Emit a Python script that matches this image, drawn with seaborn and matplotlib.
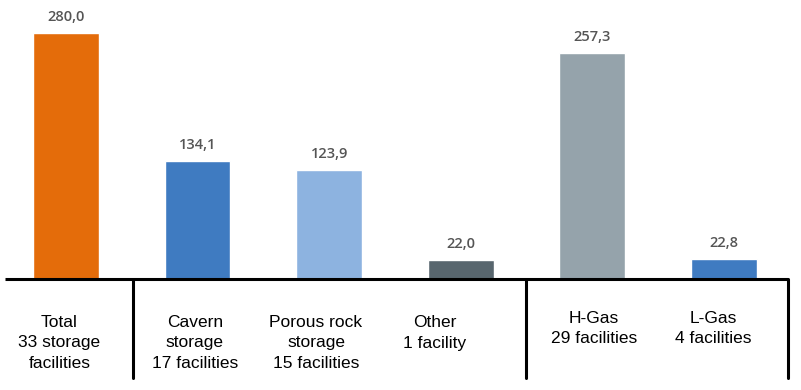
import matplotlib
matplotlib.use("Agg")
import matplotlib.pyplot as plt
import pandas as pd
import seaborn as sns

categories = ["Total", "Cavern", "Porous rock", "Other", "H-Gas", "L-Gas"]
values = [280.0, 134.1, 123.9, 22.0, 257.3, 22.8]
value_labels = ["280,0", "134,1", "123,9", "22,0", "257,3", "22,8"]
tick_labels = [
    "Total\n33 storage\nfacilities",
    "Cavern\nstorage\n17 facilities",
    "Porous rock\nstorage\n15 facilities",
    "Other\n1 facility",
    "H-Gas\n29 facilities",
    "L-Gas\n4 facilities",
]
colors = ["#E46C0A", "#3F7BC1", "#8DB3E0", "#58666E", "#95A3AB", "#3F7BC1"]

sns.set_theme(style="white")
plt.rcParams["font.family"] = ["Liberation Sans", "DejaVu Sans"]

df = pd.DataFrame({"category": categories, "value": values})

fig = plt.figure(figsize=(8.01, 3.90), dpi=100)
ax = fig.add_axes([0, 0, 1, 1])

sns.barplot(data=df, x="category", y="value", hue="category", order=categories,
            palette=colors, width=0.5, legend=False, saturation=1, ax=ax)

# pixel -> data helpers (bars centred at 66px, 131.6px apart, baseline at 279px)
PX_STEP, PX0, BASE, PX_PER_UNIT = 131.6, 66.0, 279.0, 0.879


def xd(px):
    return (px - PX0) / PX_STEP


def yd(py):
    return (BASE - py) / PX_PER_UNIT


ax.set_xlim(xd(0), xd(801))
ax.set_ylim(yd(390), yd(0))
ax.axis("off")

for i, (v, lab) in enumerate(zip(values, value_labels)):
    ax.text(i, v + 16 / PX_PER_UNIT, lab, ha="center", va="center",
            fontsize=10.5, color="#555555", weight="semibold",
            family=["Open Sans", "DejaVu Sans"])

label_shift = [-0.05, -0.02, -0.1, -0.2, 0.01, -0.08]
label_py = [343, 343, 343, 333, 328.5, 328.5]
for i, (lab, sh, py) in enumerate(zip(tick_labels, label_shift, label_py)):
    ax.text(i + sh, yd(py), lab, ha="center", va="center", fontsize=12.5,
            color="black", linespacing=1.45)

lw = 2.2
ax.plot([xd(5), xd(788)], [0, 0], color="black", lw=lw, solid_capstyle="butt")
for px in (133, 526):
    ax.plot([xd(px), xd(px)], [0, yd(378)], color="black", lw=lw)
ax.plot([xd(788), xd(788)], [0, yd(378)], color="black", lw=lw)

fig.savefig("out.png", dpi=100)
